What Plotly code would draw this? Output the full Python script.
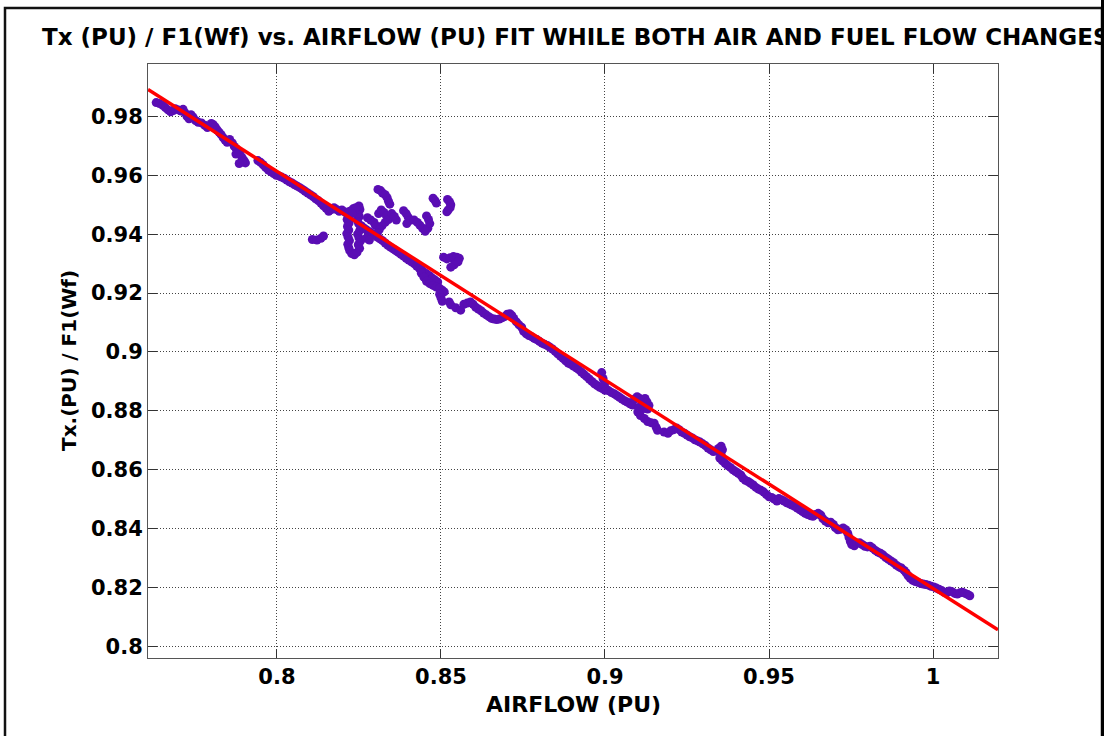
import plotly.graph_objects as go

# ---------------- data ----------------
title_text = "Tx (PU) / F1(Wf) vs. AIRFLOW (PU) FIT WHILE BOTH AIR AND FUEL FLOW CHANGES"
x_title = "AIRFLOW (PU)"
y_title = "Tx.(PU) / F1(Wf)"

x_tickvals = [0.8, 0.85, 0.9, 0.95, 1.0]
x_ticktext = ["0.8", "0.85", "0.9", "0.95", "1"]
y_tickvals = [0.80, 0.82, 0.84, 0.86, 0.88, 0.90, 0.92, 0.94, 0.96, 0.98]
y_ticktext = ["0.8", "0.82", "0.84", "0.86", "0.88", "0.9", "0.92", "0.94", "0.96", "0.98"]

x_range = [0.7607, 1.0198]
y_range = [0.79606, 0.9978]

# linear fit line (end points)
fit_x = [0.7607, 1.0198]
fit_y = [0.98917, 0.80567]

# measured points, segment by segment
seg_a_x = [0.7632, 0.7642, 0.7652, 0.7660, 0.7668, 0.7676, 0.7684, 0.7690, 0.7700, 0.7708,
           0.7714, 0.7720, 0.7726, 0.7732, 0.7738, 0.7744, 0.7752, 0.7760, 0.7770, 0.7780,
           0.7788, 0.7794, 0.7800, 0.7806, 0.7812, 0.7818, 0.7824, 0.7830, 0.7836, 0.7842,
           0.7848, 0.7856, 0.7864, 0.7870, 0.7876, 0.7882, 0.7888, 0.7894, 0.7900, 0.7904,
           0.7875, 0.7895, 0.7885,
           0.7942, 0.7950, 0.7958, 0.7966, 0.7974, 0.7982, 0.7990, 0.7998]
seg_a_y = [0.9847, 0.9844, 0.9838, 0.9830, 0.9822, 0.9816, 0.9820, 0.9826, 0.9822, 0.9818,
           0.9824, 0.9812, 0.9800, 0.9792, 0.9806, 0.9798, 0.9786, 0.9780, 0.9778, 0.9770,
           0.9762, 0.9768, 0.9776, 0.9772, 0.9764, 0.9754, 0.9746, 0.9738, 0.9728, 0.9720,
           0.9712, 0.9722, 0.9710, 0.9698, 0.9690, 0.9680, 0.9670, 0.9660, 0.9650, 0.9642,
           0.9672, 0.9645, 0.9640,
           0.9650, 0.9644, 0.9636, 0.9626, 0.9618, 0.9612, 0.9606, 0.9600]

seg_b_x = [0.8006, 0.8014, 0.8022, 0.8030, 0.8038, 0.8046, 0.8054, 0.8062, 0.8070, 0.8078,
           0.8086, 0.8094, 0.8102, 0.8110, 0.8118, 0.8126, 0.8134, 0.8142, 0.8150, 0.8158,
           0.8166, 0.8174, 0.8182, 0.8190, 0.8198, 0.8206, 0.8214,
           0.8108, 0.8122, 0.8134, 0.8142]
seg_b_y = [0.9598, 0.9594, 0.9590, 0.9584, 0.9578, 0.9574, 0.9568, 0.9563, 0.9558, 0.9552,
           0.9546, 0.9540, 0.9534, 0.9528, 0.9520, 0.9514, 0.9506, 0.9496, 0.9488, 0.9478,
           0.9484, 0.9490, 0.9484, 0.9478, 0.9482, 0.9476, 0.9470,
           0.9382, 0.9380, 0.9386, 0.9394]

seg_c_x = [0.8218, 0.8214, 0.8220, 0.8215, 0.8219, 0.8213, 0.8217, 0.8221, 0.8216, 0.8219, 0.8222,
           0.8228, 0.8236, 0.8244,
           0.8252, 0.8248, 0.8254, 0.8250, 0.8246, 0.8252, 0.8256, 0.8249, 0.8245, 0.8251,
           0.8247, 0.8253, 0.8250,
           0.8222, 0.8232, 0.8240, 0.8230,
           0.8258, 0.8266, 0.8274, 0.8282, 0.8290, 0.8298, 0.8306, 0.8314, 0.8322, 0.8330,
           0.8338, 0.8346, 0.8354, 0.8362, 0.8370, 0.8378, 0.8386, 0.8394, 0.8402, 0.8410,
           0.8418, 0.8426, 0.8434, 0.8442, 0.8450, 0.8458, 0.8466, 0.8474, 0.8482, 0.8490,
           0.8272, 0.8282,
           0.8276, 0.8286, 0.8296, 0.8300,
           0.8310, 0.8318, 0.8326, 0.8334, 0.8340, 0.8330, 0.8320, 0.8312, 0.8306,
           0.8308, 0.8316, 0.8322, 0.8330, 0.8336, 0.8340, 0.8344,
           0.8350, 0.8358, 0.8364,
           0.8386, 0.8394, 0.8400, 0.8404, 0.8396,
           0.8418, 0.8428, 0.8436, 0.8444, 0.8452, 0.8460, 0.8466, 0.8462, 0.8456,
           0.8476, 0.8482, 0.8486,
           0.8520, 0.8526, 0.8530, 0.8528, 0.8522, 0.8518,
           0.8508, 0.8518, 0.8528, 0.8538, 0.8548, 0.8556, 0.8552, 0.8540, 0.8530,
           0.8440, 0.8448, 0.8456, 0.8466, 0.8476, 0.8486, 0.8496, 0.8504, 0.8510,
           0.8496, 0.8500, 0.8504, 0.8525, 0.8530, 0.8545, 0.8560]
seg_c_y = [0.9462, 0.9450, 0.9438, 0.9426, 0.9414, 0.9402, 0.9390, 0.9378, 0.9366, 0.9354, 0.9344,
           0.9334, 0.9330, 0.9338,
           0.9352, 0.9364, 0.9376, 0.9388, 0.9400, 0.9412, 0.9424, 0.9436, 0.9448, 0.9460,
           0.9472, 0.9484, 0.9496,
           0.9478, 0.9486, 0.9490, 0.9470,
           0.9428, 0.9420, 0.9414, 0.9408, 0.9402, 0.9396, 0.9390, 0.9384, 0.9378, 0.9370,
           0.9362, 0.9356, 0.9350, 0.9344, 0.9338, 0.9332, 0.9326, 0.9318, 0.9312, 0.9306,
           0.9300, 0.9292, 0.9284, 0.9278, 0.9270, 0.9264, 0.9258, 0.9250, 0.9244, 0.9238,
           0.9386, 0.9380,
           0.9456, 0.9448, 0.9440, 0.9430,
           0.9470, 0.9482, 0.9474, 0.9462, 0.9450, 0.9440, 0.9428, 0.9416, 0.9404,
           0.9552, 0.9548, 0.9540, 0.9534, 0.9524, 0.9512, 0.9502,
           0.9470, 0.9460, 0.9448,
           0.9480, 0.9470, 0.9458, 0.9446, 0.9436,
           0.9448, 0.9440, 0.9430, 0.9420, 0.9410, 0.9420, 0.9436, 0.9450, 0.9462,
           0.9522, 0.9514, 0.9506,
           0.9518, 0.9510, 0.9500, 0.9490, 0.9482, 0.9476,
           0.9322, 0.9316, 0.9320, 0.9324, 0.9322, 0.9318, 0.9306, 0.9296, 0.9288,
           0.9268, 0.9254, 0.9240, 0.9232, 0.9226, 0.9220, 0.9216, 0.9210, 0.9204,
           0.9196, 0.9184, 0.9172, 0.9170, 0.9160, 0.9150, 0.9142]

seg_d_x = [0.8570, 0.8580, 0.8590, 0.8598, 0.8606, 0.8614, 0.8622, 0.8630, 0.8638, 0.8646,
           0.8654, 0.8662, 0.8670, 0.8678, 0.8686, 0.8694, 0.8702, 0.8710, 0.8716, 0.8722,
           0.8730, 0.8738, 0.8746, 0.8752, 0.8760, 0.8768, 0.8776, 0.8784, 0.8792, 0.8800,
           0.8808, 0.8816, 0.8824, 0.8832, 0.8840, 0.8848, 0.8856, 0.8864, 0.8872, 0.8880,
           0.8888, 0.8896, 0.8904, 0.8912, 0.8920, 0.8928, 0.8936, 0.8944, 0.8952, 0.8960,
           0.8968, 0.8976, 0.8984, 0.8992, 0.9000]
seg_d_y = [0.9162, 0.9166, 0.9170, 0.9162, 0.9152, 0.9146, 0.9140, 0.9132, 0.9126, 0.9120,
           0.9114, 0.9112, 0.9110, 0.9112, 0.9116, 0.9120, 0.9128, 0.9130, 0.9124, 0.9114,
           0.9102, 0.9092, 0.9084, 0.9070, 0.9062, 0.9056, 0.9052, 0.9046, 0.9042, 0.9036,
           0.9030, 0.9026, 0.9022, 0.9016, 0.9010, 0.9002, 0.8994, 0.8986, 0.8978, 0.8970,
           0.8962, 0.8958, 0.8952, 0.8946, 0.8940, 0.8932, 0.8924, 0.8916, 0.8908, 0.8900,
           0.8892, 0.8886, 0.8880, 0.8876, 0.8870]

seg_e_x = [0.8990, 0.8994, 0.8998, 0.9004, 0.9012, 0.9020, 0.9028, 0.9036, 0.9044, 0.9052,
           0.9060, 0.9068, 0.9076, 0.9084, 0.9090, 0.9098, 0.9106, 0.9114, 0.9122, 0.9128,
           0.9134, 0.9130, 0.9118, 0.9104, 0.9100, 0.9108, 0.9120, 0.9130, 0.9140, 0.9150,
           0.9156, 0.9160, 0.9180, 0.9192, 0.9200, 0.9210, 0.9218, 0.9226, 0.9234, 0.9242,
           0.9250, 0.9258, 0.9266, 0.9274, 0.9282, 0.9290, 0.9298, 0.9306, 0.9314, 0.9322,
           0.9330, 0.9338, 0.9346, 0.9354, 0.9358, 0.9354, 0.9350, 0.9358, 0.9366, 0.9374,
           0.9382, 0.9390, 0.9398, 0.9406, 0.9414, 0.9420, 0.9428, 0.9436, 0.9444, 0.9452,
           0.9460, 0.9468, 0.9476, 0.9484, 0.9492, 0.9500]
seg_e_y = [0.8930, 0.8910, 0.8890, 0.8874, 0.8868, 0.8862, 0.8858, 0.8852, 0.8846, 0.8840,
           0.8834, 0.8830, 0.8824, 0.8820, 0.8840, 0.8848, 0.8842, 0.8836, 0.8842, 0.8830,
           0.8818, 0.8806, 0.8808, 0.8812, 0.8796, 0.8784, 0.8774, 0.8764, 0.8760, 0.8758,
           0.8744, 0.8734, 0.8728, 0.8724, 0.8732, 0.8736, 0.8742, 0.8736, 0.8728, 0.8724,
           0.8718, 0.8712, 0.8708, 0.8702, 0.8698, 0.8694, 0.8688, 0.8682, 0.8674, 0.8668,
           0.8662, 0.8664, 0.8672, 0.8680, 0.8668, 0.8652, 0.8640, 0.8630, 0.8622, 0.8614,
           0.8608, 0.8600, 0.8594, 0.8588, 0.8582, 0.8572, 0.8564, 0.8560, 0.8554, 0.8548,
           0.8540, 0.8534, 0.8530, 0.8524, 0.8516, 0.8508]

seg_f_x = [0.9508, 0.9516, 0.9524, 0.9530, 0.9538, 0.9546, 0.9554, 0.9562, 0.9570, 0.9578,
           0.9586, 0.9594, 0.9602, 0.9610, 0.9618, 0.9626, 0.9634, 0.9642, 0.9650, 0.9658,
           0.9664, 0.9672, 0.9680, 0.9688, 0.9696, 0.9702, 0.9710, 0.9718, 0.9726, 0.9734,
           0.9740, 0.9744, 0.9748, 0.9752, 0.9760, 0.9768, 0.9776, 0.9784, 0.9792, 0.9800,
           0.9808, 0.9816, 0.9824, 0.9832, 0.9840, 0.9848, 0.9856, 0.9864, 0.9872, 0.9880,
           0.9888, 0.9896, 0.9904, 0.9912, 0.9918, 0.9924, 0.9930, 0.9938, 0.9946, 0.9954,
           0.9962, 0.9970, 0.9978, 0.9986, 0.9994, 1.0002, 1.0010, 1.0018, 1.0026, 1.0034,
           1.0042, 1.0050, 1.0058, 1.0066, 1.0074, 1.0082, 1.0090, 1.0098, 1.0106, 1.0112]
seg_f_y = [0.8506, 0.8500, 0.8494, 0.8502, 0.8498, 0.8494, 0.8488, 0.8484, 0.8480, 0.8476,
           0.8470, 0.8464, 0.8458, 0.8452, 0.8448, 0.8444, 0.8442, 0.8448, 0.8452, 0.8446,
           0.8434, 0.8426, 0.8420, 0.8422, 0.8414, 0.8404, 0.8396, 0.8398, 0.8402, 0.8396,
           0.8384, 0.8370, 0.8356, 0.8346, 0.8342, 0.8350, 0.8352, 0.8346, 0.8340, 0.8338,
           0.8340, 0.8334, 0.8326, 0.8320, 0.8316, 0.8310, 0.8302, 0.8296, 0.8290, 0.8284,
           0.8276, 0.8270, 0.8266, 0.8258, 0.8250, 0.8240, 0.8232, 0.8224, 0.8220, 0.8218,
           0.8214, 0.8212, 0.8210, 0.8208, 0.8204, 0.8202, 0.8198, 0.8194, 0.8190, 0.8184,
           0.8182, 0.8188, 0.8186, 0.8180, 0.8178, 0.8182, 0.8184, 0.8180, 0.8176, 0.8172]

pts_x = seg_a_x + seg_b_x + seg_c_x + seg_d_x + seg_e_x + seg_f_x
pts_y = seg_a_y + seg_b_y + seg_c_y + seg_d_y + seg_e_y + seg_f_y

# ---------------- figure ----------------
W, H = 1112, 736
L, R, T, B = 148, 998, 64, 658   # plot area in pixels


def px_x(px):
    return (px - L) / (R - L)


def px_y(py):
    return (B - py) / (B - T)


FONT = "DejaVu Sans"
fig = go.Figure()
fig.add_trace(go.Scatter(x=pts_x, y=pts_y, mode="markers",
                         marker=dict(size=9, color="#5A0DB4", line=dict(width=0)),
                         showlegend=False, hoverinfo="skip"))
fig.add_trace(go.Scatter(x=fit_x, y=fit_y, mode="lines",
                         line=dict(color="#FF0000", width=3.5),
                         showlegend=False, hoverinfo="skip"))

axis_common = dict(
    showgrid=True, gridcolor="#444444", gridwidth=1, griddash="1px,2px",
    showline=True, linecolor="#555555", linewidth=1, mirror="ticks",
    ticks="inside", ticklen=9, tickcolor="#333333", tickwidth=1,
    zeroline=False,
    tickfont=dict(family=FONT, size=21, color="#000000", weight="bold"),
)
fig.update_xaxes(range=x_range, tickvals=x_tickvals, ticktext=x_ticktext, **axis_common)
fig.update_yaxes(range=y_range, tickvals=y_tickvals, ticktext=y_ticktext, **axis_common)

fig.update_layout(
    width=W, height=H,
    margin=dict(l=L, r=W - R, t=T, b=H - B, pad=0),
    paper_bgcolor="white", plot_bgcolor="white",
    showlegend=False,
    shapes=[dict(type="rect", xref="paper", yref="paper",
                 x0=px_x(5), x1=px_x(1102), y0=px_y(760), y1=px_y(8),
                 line=dict(color="#111111", width=2.5), fillcolor="rgba(0,0,0,0)",
                 layer="below")],
    annotations=[
        dict(text=title_text, xref="paper", yref="paper", x=px_x(40), y=px_y(37),
             xanchor="left", yanchor="middle", showarrow=False,
             font=dict(family=FONT, size=23, color="#000000", weight="bold")),
        dict(text=x_title, xref="paper", yref="paper", x=0.5, y=px_y(704),
             xanchor="center", yanchor="middle", showarrow=False,
             font=dict(family=FONT, size=22, color="#000000", weight="bold")),
        dict(text=y_title, xref="paper", yref="paper", x=px_x(69), y=0.5, textangle=-90,
             xanchor="center", yanchor="middle", showarrow=False,
             font=dict(family=FONT, size=20, color="#000000", weight="bold")),
        # right edge of the figure frame, hiding the title overflow
        dict(text=" ", xref="paper", yref="paper", x=px_x(1100.5), y=px_y(368),
             xanchor="left", yanchor="middle", showarrow=False,
             width=40, height=800, bgcolor="white",
             bordercolor="#000000", borderwidth=3, borderpad=0),
    ],
)

fig.write_html("out.html",
               config={"displayModeBar": False},
               post_script="document.body.style.margin='0px';document.body.style.overflow='hidden';")
